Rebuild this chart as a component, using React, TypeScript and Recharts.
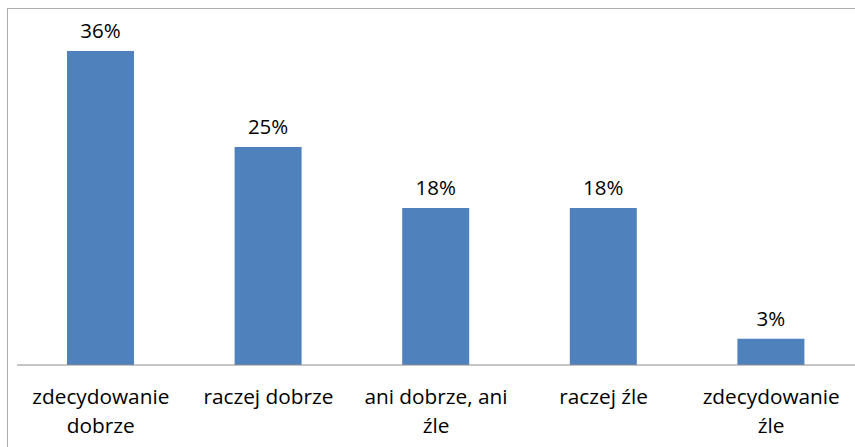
import React from 'react';
import { BarChart, Bar, XAxis, YAxis, LabelList } from 'recharts';

const categories = ['zdecydowanie dobrze', 'raczej dobrze', 'ani dobrze, ani źle', 'raczej źle', 'zdecydowanie źle'];
const tickLines = [
    ['zdecydowanie', 'dobrze'],
    ['raczej dobrze'],
    ['ani dobrze, ani', 'źle'],
    ['raczej źle'],
    ['zdecydowanie', 'źle'],
];
const values = [36, 25, 18, 18, 3];

const data = categories.map((name, i) => ({ name, value: values[i] }));

const FONT = '"Open Sans", sans-serif';

function Tick(props: any) {
    const { x, y, payload } = props;
    const lines = tickLines[payload.index] || [payload.value];
    return (
        <text x={x} y={y} textAnchor="middle" fill="#000" fontSize={20.8} fontFamily={FONT}>
            {lines.map((line, i) => (
                <tspan key={i} x={x} dy={i === 0 ? 31 : 29}>{line}</tspan>
            ))}
        </text>
    );
}

export default function App() {
    return (
        <div style={{ position: 'absolute', left: 7, top: 8, width: 848, height: 439, boxSizing: 'border-box', borderLeft: '1px solid #adadad', borderTop: '1px solid #adadad', background: '#fff' }}>
            <BarChart width={847} height={438} data={data} margin={{ top: 7, right: 0, bottom: 0, left: 9 }}>
                <XAxis
                    dataKey="name"
                    height={82}
                    tickLine={false}
                    axisLine={{ stroke: '#8c8c8c' }}
                    interval={0}
                    tick={<Tick />}
                />
                <YAxis hide domain={[0, 40]} />
                <Bar dataKey="value" fill="#4F81BD" barSize={67} isAnimationActive={false}>
                    <LabelList
                        dataKey="value"
                        position="top"
                        offset={13}
                        formatter={(v: any) => `${v}%`}
                        fill="#000"
                        fontSize={20.5}
                        fontFamily={FONT}
                    />
                </Bar>
            </BarChart>
        </div>
    );
}
